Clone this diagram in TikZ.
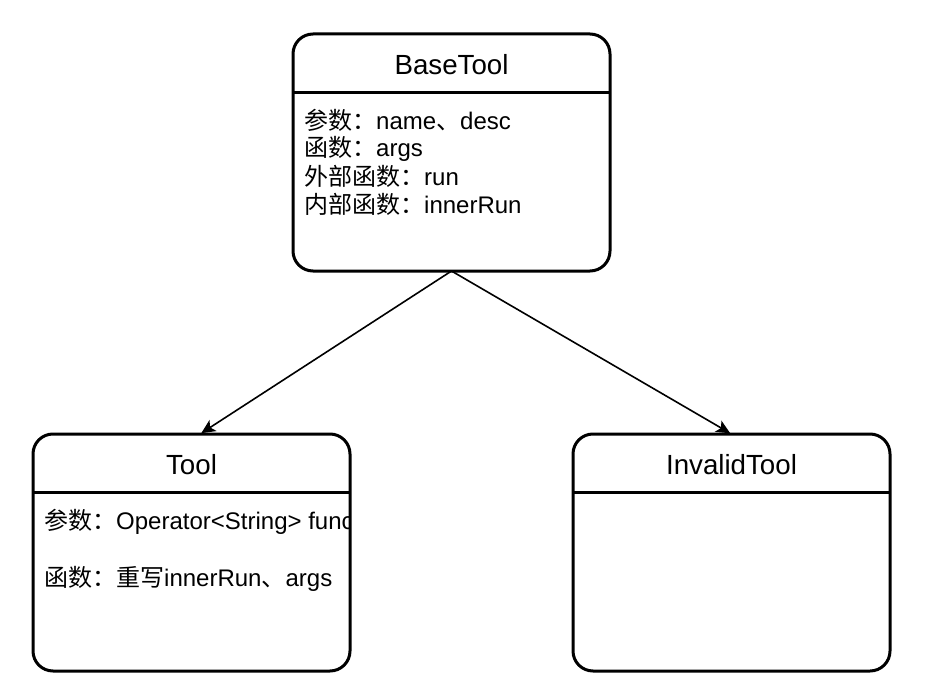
\documentclass[tikz,border=0pt]{standalone}
\usepackage{fontspec}
\setmainfont{Liberation Sans}
\newfontfamily\cjk{Noto Sans CJK SC}
\usetikzlibrary{arrows.meta}
\begin{document}
\begin{tikzpicture}[x=1pt,y=-1pt]
        % Styles
        \tikzstyle{class box}=[draw,line width=3pt,rounded corners=20pt,minimum width=317pt,minimum height=237pt,inner sep=0pt,outer sep=0pt]
        \tikzstyle{header line}=[line width=3pt]
        \tikzstyle{class title}=[font=\fontsize{27.7}{33}\selectfont,inner sep=0pt]
        \tikzstyle{class text}=[font=\fontsize{24}{28}\selectfont,anchor=base west,inner sep=0pt]
        \tikzstyle{inherit}=[line width=1.6pt,shorten >=1.5pt,-{Stealth[length=14pt,width=13pt,inset=3.5pt]}]
        %The graphic
        \useasboundingbox (0,0) rectangle (926,698);
        %classes
        \foreach \name/\x/\y/\title in {base/451.5/152.5/BaseTool,tool/191.5/552.5/Tool,invalid/731.5/552.5/InvalidTool}
        {
            \node[class box] (\name) at (\x,\y) {};
            \draw[header line] ([yshift=-58.5pt]\name.north west) -- ([yshift=-58.5pt]\name.north east);
            \node[class title] (\name-title) at ([yshift=-31pt]\name.north) {\title};
        }
        %members
            \node[class text] (base-params) at (304,129) {{\cjk 参数：}name{\cjk 、}desc};
            \node[class text] (base-funcs) at (304,157) {{\cjk 函数：}args};
            \node[class text] (base-outer) at (304,185) {{\cjk 外部函数：}run};
            \node[class text] (base-inner) at (304,213) {{\cjk 内部函数：}innerRun};
        \begin{scope}
            \clip (tool.north west) rectangle (tool.south east);
            \node[class text] (tool-params) at (44,529) {{\cjk 参数：}Operator<String> func};
            \node[class text] (tool-funcs) at (44,586) {{\cjk 函数：重写}innerRun{\cjk 、}args};
        \end{scope}
        %inheritance
            \draw[inherit] (base.south) -- ([xshift=8.5pt]tool.north);
            \draw[inherit] (base.south) -- (invalid.north);
    \end{tikzpicture}
\end{document}
